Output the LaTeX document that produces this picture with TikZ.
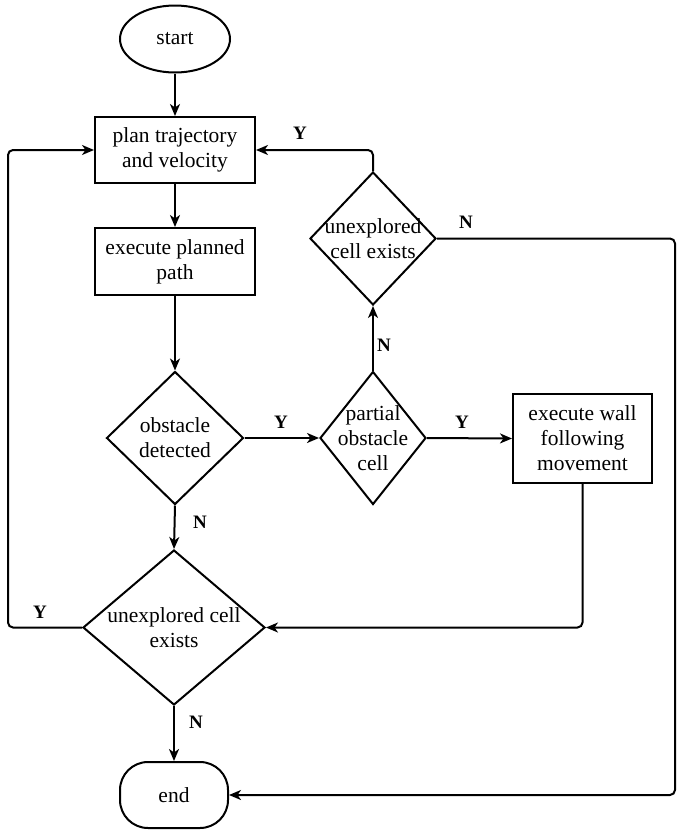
\documentclass[tikz,border=0pt]{standalone}
\usepackage{fontspec}
\setmainfont{Liberation Serif}
\usetikzlibrary{shapes.geometric,arrows.meta}
\begin{document}
\begin{tikzpicture}[x=1pt,y=-1pt, line width=2pt,
  font=\fontsize{21.5}{25}\selectfont,
  box/.style={draw, rectangle, minimum width=160pt, minimum height=66pt, align=center, inner sep=0pt},
  dia/.style={draw, diamond, inner sep=0pt},
  txt/.style={align=center, inner sep=0pt, font=\fontsize{21.5}{25}\selectfont},
  lab/.style={font=\fontsize{19}{25}\selectfont\bfseries},
  arr/.style={-{Stealth[length=12pt,width=10pt,inset=3.5pt]}, rounded corners=5pt}]
\useasboundingbox (0,0) rectangle (677,830);
\node[draw, ellipse, minimum width=110pt, minimum height=67pt, inner sep=0pt] (start) at (175,39) {start};
\node[box] (plan) at (175,150) {plan trajectory\\and velocity};
\node[box, minimum height=67pt] (exec) at (175,261.5) {execute planned\\path};
\node[dia, minimum width=137pt, minimum height=133pt, label={[txt]center:{obstacle\\detected}}] (obs) at (175,438) {};
\node[dia, minimum width=106pt, minimum height=133pt, label={[txt]center:{partial\\obstacle\\cell}}] (part) at (373,438) {};
\node[box, minimum width=139pt, minimum height=89pt] (wall) at (582.5,438.5) {execute wall\\following\\movement};
\node[dia, minimum width=126pt, minimum height=133pt, label={[txt]center:{unexplored\\cell exists}}] (up) at (373,238.5) {};
\node[dia, minimum width=182pt, minimum height=155pt, label={[txt]center:{unexplored cell\\exists}}] (low) at (174,627.5) {};
\node[draw, rectangle, rounded corners=28pt, minimum width=108pt, minimum height=66pt, inner sep=0pt] (stop) at (174,795) {end};
\coordinate (rN) at (675,238.5);
\coordinate (lY) at (8,627.5);
\draw[arr] (start) -- (plan);
\draw[arr] (plan) -- (exec);
\draw[arr] (exec) -- (obs.north);
\draw[arr] (obs.east) -- (part.west);
\draw[arr] (part.east) -- (wall.west);
\draw[arr] (part.north) -- (up.south);
\draw[arr] (up.north) |- (plan.east);
\draw[arr] (up.east) -- (rN) |- (stop.east);
\draw[arr] (obs.south) -- (low.north);
\draw[arr] (wall.south) |- (low.east);
\draw[arr] (low.west) -- (lY) |- (plan.west);
\draw[arr] (low.south) -- (stop.north);
\node[lab] (l1) at (281,422) {Y};
\node[lab] (l2) at (462,422) {Y};
\node[lab] (l3) at (384,345) {N};
\node[lab] (l4) at (300,133) {Y};
\node[lab] (l5) at (466,222) {N};
\node[lab] (l6) at (200,522) {N};
\node[lab] (l7) at (40,612) {Y};
\node[lab] (l8) at (196,722) {N};
\end{tikzpicture}
\end{document}
